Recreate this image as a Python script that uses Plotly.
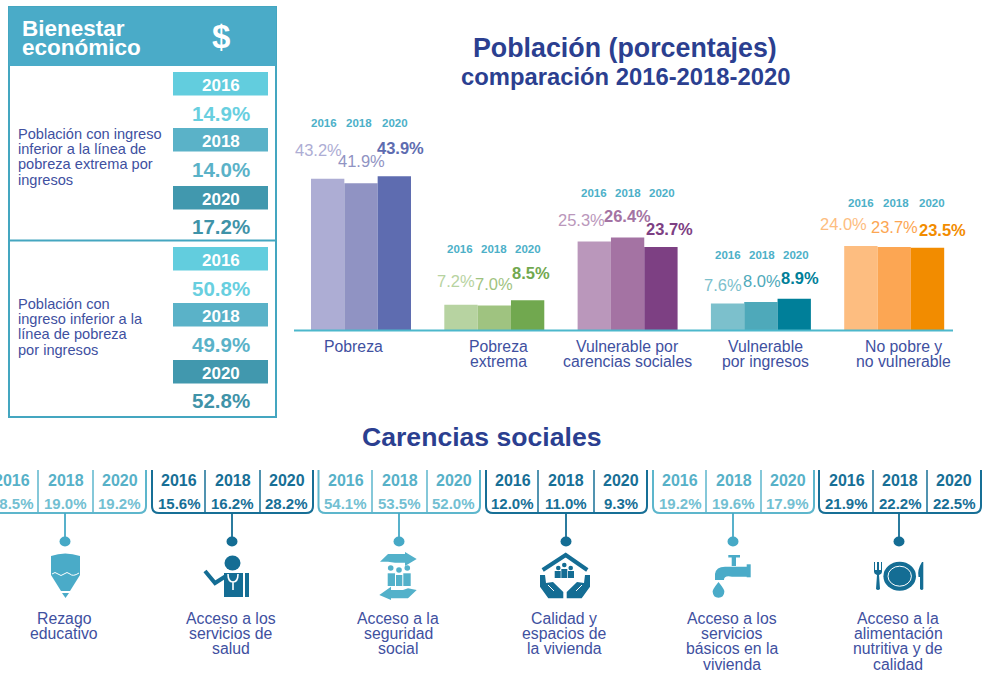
import plotly.graph_objects as go

# ---------- data ----------
categories = ["Pobreza", "Pobreza extrema", "Vulnerable por carencias sociales", "Vulnerable por ingresos", "No pobre y no vulnerable"]
years = ["2016", "2018", "2020"]
values_2016 = [43.2, 7.2, 25.3, 7.6, 24.0]
values_2018 = [41.9, 7.0, 26.4, 8.0, 23.7]
values_2020 = [43.9, 8.5, 23.7, 8.9, 23.5]
colors_2016 = ["#adadd4", "#b7d3a1", "#ba97bb", "#7cc0cc", "#fdbd80"]
colors_2018 = ["#9093c3", "#9fc380", "#a473a3", "#4ea9ba", "#fca653"]
colors_2020 = ["#5e6cb0", "#71a84f", "#7d4083", "#007f99", "#f28c00"]

panel_extrema = ["14.9%", "14.0%", "17.2%"]
panel_pobreza = ["50.8%", "49.9%", "52.8%"]

carencias = ["Rezago educativo", "Acceso a los servicios de salud", "Acceso a la seguridad social",
             "Calidad y espacios de la vivienda", "Acceso a los servicios básicos en la vivienda",
             "Acceso a la alimentación nutritiva y de calidad"]
car_2016 = ["18.5%", "15.6%", "54.1%", "12.0%", "19.2%", "21.9%"]
car_2018 = ["19.0%", "16.2%", "53.5%", "11.0%", "19.6%", "22.2%"]
car_2020 = ["19.2%", "28.2%", "52.0%", "9.3%", "17.9%", "22.5%"]

# ---------- layout constants (pixels) ----------
W, H = 982, 674
FONT = "Liberation Sans"
BLUE = "#40509f"
TEAL = "#4aabc8"
DARK = "#176f96"
BASE_Y, PX_PER_UNIT = 330, 3.5
X0, X1, C0, STEP = 294, 953, 361, 133.3

fig = go.Figure()
for name, vals, cols in [("2016", values_2016, colors_2016), ("2018", values_2018, colors_2018), ("2020", values_2020, colors_2020)]:
    fig.add_trace(go.Bar(name=name, x=list(range(len(categories))), y=vals, marker=dict(color=cols, line_width=0),
                         hovertext=categories, xaxis="x", yaxis="y"))

anns, shapes = [], []

def txt(x, y, s, size, color, bold=False, anchor="center"):
    anns.append(dict(x=x, y=y, xref="x2", yref="y2", text=f"<b>{s}</b>" if bold else s, showarrow=False,
                     xanchor=anchor, yanchor="middle", xshift=-2 if anchor == "left" else 0,
                     font=dict(family=FONT, size=size, color=color)))

def lines(x, y, rows, size, color, gap=15.2, bold=False, anchor="center"):
    for i, r in enumerate(rows):
        txt(x, y + i * gap, r, size, color, bold, anchor)

def rect(x0, y0, x1, y1, fill=None, line=None, lw=0):
    shapes.append(dict(type="rect", xref="x2", yref="y2", x0=x0, y0=y0, x1=x1, y1=y1, fillcolor=fill or "rgba(0,0,0,0)",
                       line=dict(color=line or "rgba(0,0,0,0)", width=lw), layer="above"))

def path(d, fill=None, line=None, lw=0):
    shapes.append(dict(type="path", xref="x2", yref="y2", path=d, fillcolor=fill or "rgba(0,0,0,0)",
                       line=dict(color=line or "rgba(0,0,0,0)", width=lw), layer="above"))

def ell(cx, cy, rx, ry, fill=None, line=None, lw=0):
    shapes.append(dict(type="circle", xref="x2", yref="y2", x0=cx - rx, y0=cy - ry, x1=cx + rx, y1=cy + ry,
                       fillcolor=fill or "rgba(0,0,0,0)", line=dict(color=line or "rgba(0,0,0,0)", width=lw), layer="above"))

# ---------- titles ----------
txt(625, 48, "Población (porcentajes)", 26.8, "#2b3f90", True)
txt(625, 76, "comparación 2016-2018-2020", 23.8, "#2b3f90", True)
txt(482, 436.5, "Carencias sociales", 26.6, "#2b3f90", True)

# ---------- left panel ----------
rect(9, 7, 276, 417, "#ffffff", "#44a6c0", 2)
rect(9, 7, 276, 66, "#4aabc8")
shapes.append(dict(type="line", xref="x2", yref="y2", x0=9, x1=276, y0=240.5, y1=240.5, line=dict(color="#44a6c0", width=2), layer="above"))
lines(22, 28, ["Bienestar", "económico"], 22.5, "#ffffff", gap=19.5, bold=True, anchor="left")
txt(221, 36, "$", 33, "#ffffff", True)

BOX_COL = ["#62cdde", "#5ab2c8", "#4198ae"]
VAL_COL = ["#68cfdf", "#5ab2c8", "#3f93a8"]
for ys, vals in [([72, 128, 186], panel_extrema), ([247, 303, 360], panel_pobreza)]:
    for i, y in enumerate(ys):
        rect(173, y, 268, y + 23.5, BOX_COL[i])
        txt(220.5, y + 13, years[i], 17, "#ffffff", True)
        txt(220.5, y + 41 if i < 2 else y + 40, vals[i], 20.5, VAL_COL[i], True)
lines(18, 134, ["Población con ingreso", "inferior a la línea de", "pobreza extrema por", "ingresos"], 14.6, BLUE, anchor="left")
lines(18, 304, ["Población con", "ingreso inferior a la", "línea de pobreza", "por ingresos"], 14.6, BLUE, anchor="left")

# ---------- chart labels ----------
# per bar: pixel offsets of the value label from the top-centre of its bar
x_off = [[-9, 0, 6], [-5, 0, 3], [-13, 0, 9], [-5, 1, 6], [-17, 0, 15]]
y_off = [[29, 22, 28], [24, 22, 27], [21, 21.5, 18], [18, 21, 21], [22, 20, 18]]
strong = [[0, 0, 1], [0, 0, 1], [0, 1, 1], [0, 0, 1], [0, 0, 1]]
year_y = [123, 249, 193, 255, 203]
year_x_off = [[-37, -2, 34], [-34, 0, 34], [-34, 0, 34], [-33, 1, 35], [-33, 2, 38]]
for g in range(5):
    for j, vals in enumerate([values_2016, values_2018, values_2020]):
        cols = [colors_2016, colors_2018, colors_2020][j]
        s = f"{vals[g]:.1f}%"
        anns.append(dict(x=g + (j - 1) * 0.25, y=vals[g], xref="x", yref="y", xshift=x_off[g][j], yshift=y_off[g][j],
                         text=f"<b>{s}</b>" if strong[g][j] else s, showarrow=False, xanchor="center", yanchor="middle",
                         font=dict(family=FONT, size=16.5, color=cols[g])))
        txt(C0 + g * STEP + year_x_off[g][j], year_y[g], years[j], 11.5, "#4db0c8", True)

axis_rows = [["Pobreza"], ["Pobreza", "extrema"], ["Vulnerable por", "carencias sociales"], ["Vulnerable", "por ingresos"], ["No pobre y", "no vulnerable"]]
axis_x = [353, 498, 627, 765, 903]
for r, x in zip(axis_rows, axis_x):
    lines(x, 346, r, 15.8, BLUE, gap=15.2)

# ---------- carencias ----------
box_left = [-15, 152, 318.5, 486, 653, 819]
div1 = [38, 205, 372, 538, 706, 873]
div2 = [93, 260, 427, 594, 761, 927]
box_right = [146, 313, 480, 647, 814, 981]
stem_x = [65, 232, 399, 566, 733, 899]
label_x = [64, 230.5, 398, 564, 732, 898]
label_rows = [["Rezago", "educativo"], ["Acceso a los", "servicios de", "salud"], ["Acceso a la", "seguridad", "social"],
              ["Calidad y", "espacios de", "la vivienda"], ["Acceso a los", "servicios", "básicos en la", "vivienda"],
              ["Acceso a la", "alimentación", "nutritiva y de", "calidad"]]
for i in range(6):
    dark = i % 2 == 1
    c = DARK if dark else "#5db6cc"
    ct = DARK if dark else "#57b1c8"
    cv = DARK if dark else "#73bfd2"
    l, r, b, t = box_left[i], box_right[i], 513, 470
    path(f"M{l},{t} L{l},{b-7} Q{l},{b} {l+7},{b} L{r-7},{b} Q{r},{b} {r},{b-7} L{r},{t}", line=c, lw=2)
    for d in (div1[i], div2[i]):
        shapes.append(dict(type="line", xref="x2", yref="y2", x0=d, x1=d, y0=t, y1=b, line=dict(color=c, width=1.5), layer="above"))
    cols = [(l + div1[i]) / 2 + 0.5, (div1[i] + div2[i]) / 2, (div2[i] + r) / 2]
    for k, v in enumerate([car_2016[i], car_2018[i], car_2020[i]]):
        txt(cols[k], 480.5, years[k], 16, ct, True)
        txt(cols[k], 503, v, 15, cv, True)
    s = "#46a9c6" if not dark else "#146d94"
    shapes.append(dict(type="line", xref="x2", yref="y2", x0=stem_x[i], x1=stem_x[i], y0=b, y1=537, line=dict(color=s, width=1.8), layer="above"))
    ell(stem_x[i], 541.5, 5.5, 5, s)
    lines(label_x[i], 618.5, label_rows[i], 15.8, BLUE)

# ---------- icons ----------
# pencil
P = "#4aabc8"
path("M51,556 Q65,551 80,556 L80,575 L70,591 L61,591 L51,575 Z", P)
path("M62,593 L69,593 L65.5,598 Z", P)
path("M52,574 Q55,571 58,574 Q61,577 64,574 Q67,571 70,574 Q73,577 79,573", line="#ffffff", lw=1)
# doctor
D = "#146d94"
ell(232.5, 563, 8, 7.5, D)
path("M224,573 L243,573 L243,597 L224,597 Z", D)
rect(245, 573, 249, 597, D)
path("M205,571 L215,583 L226,576", line=D, lw=4)
path("M228,574 Q228,582 233,582 Q238,582 238,574 M233,582 L233,590", line="#ffffff", lw=1.6)
# social security
C = "#53b1ca"
path("M380,561.7 L388,554 L405,554 L405,552 L416.7,559 L405,566 L405,562.7 L395,562.7 L388,561.7 Z", C)
path("M379.3,595 L391,586.7 L391,590 L403,590 L408,588.3 L416.7,590 L408,598.3 L391,598.3 L391,600 Z", C)
for cx, cy in ((390.7, 568), (399, 570), (407.3, 568)):
    ell(cx, cy, 2.8, 2.8, C)
rect(387.7, 573.3, 395, 586, C); rect(396, 575, 402.3, 586, C); rect(403.3, 573.3, 410.7, 586, C)
# house
path("M542.7,570 L565.7,555 L587.3,570", line=D, lw=4)
for cx, cy in ((558.3, 568), (564.3, 565), (570.7, 568)):
    ell(cx, cy, 2.3, 2.3, D)
rect(554.7, 571, 560.7, 578, D); rect(561.3, 569, 567.3, 578, D); rect(568, 571, 574, 578, D)
path("M540,575 L545,575 L546,583 L553,582 L563.3,592 L563.3,598.3 L548.3,598.3 L540,586.7 Z", D)
path("M590,575 L585,575 L584,583 L577,582 L566.7,592 L566.7,598.3 L581.7,598.3 L590,586.7 Z", D)
path("M548,585 L554,591", line="#ffffff", lw=1); path("M582,585 L576,591", line="#ffffff", lw=1)
# tap
rect(728.3, 555, 740, 557.5, P); rect(731.7, 557, 736, 566, P)
path("M715,580 L715,574 Q716,566.7 725,566.7 L748,566.7 L748,576.7 L732,576.7 Q724,575 724,580 Z", P)
rect(746.7, 564.3, 750.7, 577.3, P)
path("M718.5,582 Q712,590 712.7,592 Q713,597.7 718.5,597.7 Q724,597.7 724.3,592 Q725,590 718.5,582 Z", P)
# plate
ell(899.7, 576.2, 16.3, 14.5, D)
ell(899.7, 576.2, 11.7, 10, None, "#ffffff", 1)
path("M874,562 L874,572 Q874,574 877,575 L876,589 Q878,591 880,589 L879,575 Q882,574 882,572 L882,562 L881,562 L881,570 L879,570 L879,562 L877,562 L877,570 L875,570 L875,562 Z", D)
path("M922,562 Q917,570 918.5,577 L920,577 L920,589 Q922,591 923.3,589 L923.3,562 Z", D)

fig.update_layout(
    width=W, height=H, margin=dict(l=0, r=0, t=0, b=0), paper_bgcolor="#ffffff", plot_bgcolor="rgba(0,0,0,0)",
    barmode="group", bargap=0.25, bargroupgap=0, showlegend=False,
    font=dict(family=FONT),
    xaxis=dict(domain=[X0 / W, X1 / W], range=[(X0 - C0) / STEP, (X1 - C0) / STEP], showgrid=False, zeroline=False,
               showticklabels=False, ticks="", showline=False, fixedrange=True, anchor="y"),
    yaxis=dict(domain=[1 - BASE_Y / H, 1 - 110 / H], range=[0, (BASE_Y - 110) / PX_PER_UNIT], showgrid=False, zeroline=False,
               showticklabels=False, ticks="", showline=False, fixedrange=True, anchor="x"),
    xaxis2=dict(domain=[0, 1], range=[0, W], visible=False, fixedrange=True, anchor="y2"),
    yaxis2=dict(domain=[0, 1], range=[H, 0], visible=False, fixedrange=True, anchor="x2"),
    annotations=anns, shapes=shapes,
)
fig.add_shape(type="line", xref="x2", yref="y2", x0=X0, x1=X1, y0=BASE_Y + 0.5, y1=BASE_Y + 0.5, line=dict(color="#4db8cc", width=2), layer="above")

fig.write_html("out.html", config=dict(displayModeBar=False),
               post_script="document.body.style.margin='0';document.body.style.overflow='hidden';")
